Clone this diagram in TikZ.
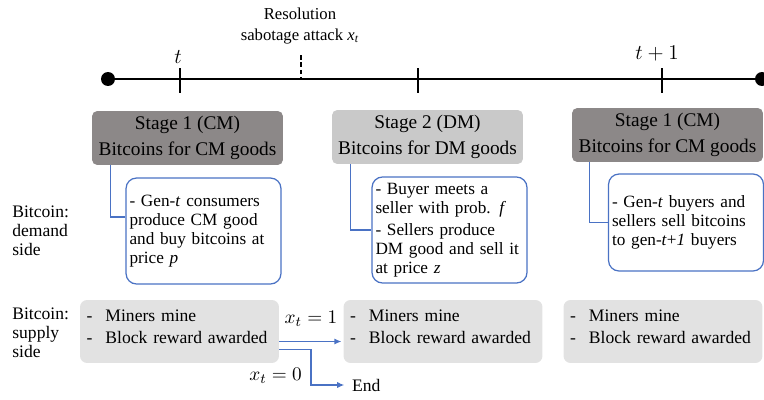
\documentclass[tikz,border=0pt]{standalone}
\usepackage{fontspec}
\setmainfont{Liberation Serif}
\usetikzlibrary{arrows.meta, positioning, calc}
\definecolor{stagedark}{RGB}{140,136,136}
\definecolor{stagelight}{RGB}{201,201,201}
\definecolor{minegray}{RGB}{226,226,226}
\definecolor{noteblue}{RGB}{74,114,196}
\tikzset{
  stagebox/.style={
    rounded corners=3pt,
    minimum width=3.82cm,
    minimum height=1.08cm,
    inner sep=1pt,
    align=center,
    font=\fontsize{11}{15}\selectfont
  },
  notebox/.style={
    draw=noteblue,
    line width=0.7pt,
    rounded corners=6pt,
    fill=white,
    minimum width=3.1cm,
    text width=2.96cm,
    inner xsep=0.07cm,
    align=left,
    font=\fontsize{9.8}{10.8}\selectfont
  },
  minebox/.style={
    fill=minegray,
    rounded corners=4pt,
    minimum width=3.98cm,
    minimum height=1.26cm,
    text width=3.72cm,
    inner xsep=0.13cm,
    align=left,
    font=\fontsize{10}{12}\selectfont
  },
  sidelabel/.style={
    anchor=north west,
    inner sep=0pt,
    align=left,
    font=\fontsize{10}{10.6}\selectfont
  },
  dot/.style={circle, fill, inner sep=0pt, minimum size=0.28cm},
  tickmark/.style={line width=0.8pt},
  attackmark/.style={line width=1.3pt, dash pattern=on 2.6pt off 1.6pt},
  link/.style={draw=noteblue, line width=0.7pt},
  flow/.style={link, -{Latex[length=4pt,width=3.5pt]}, shorten >=1pt}
}
% two bullet lines of a miners box, lifted a little above the middle
\newcommand{\mineitems}{\makebox[10.8pt][l]{-}Miners mine\\\makebox[10.8pt][l]{-}Block reward awarded\\[-6.5pt]\mbox{}}

\begin{document}
\begin{tikzpicture}[x=0.02cm, y=-0.02cm]
  \useasboundingbox (0,0) rectangle (764,399);

  % time line
  \node[dot] (tl) at (108,79) {};
  \node[dot] (tr) at (762,79) {};
  \draw[line width=1.5pt] (tl) -- (tr);
  \foreach \x in {180,418,662}
    \draw[tickmark] (\x,68) -- (\x,93);
  \draw[attackmark] (301,55) -- (301,79);
  \node[font=\fontsize{13}{15}\selectfont] (t0) at (178,57) {$t$};
  \node[font=\fontsize{13}{15}\selectfont] (t1) at (657,54) {$t+1$};
  \node[align=center, font=\fontsize{9.5}{12.5}\selectfont] (res) at (300,26)
    {Resolution\\sabotage attack \textit{x}\textsubscript{\textit{t}}};

  % stages
  \node[stagebox, fill=stagedark] (s1) at (187.5,138) {Stage 1 (CM)\\Bitcoins for CM goods};
  \node[stagebox, fill=stagelight] (s2) at (427.5,137) {Stage 2 (DM)\\Bitcoins for DM goods};
  \node[stagebox, fill=stagedark] (s3) at (667.5,135) {Stage 1 (CM)\\Bitcoins for CM goods};

  % demand side
  \node[sidelabel] (dem) at (12,206) {Bitcoin:\\demand\\side};
  \node[notebox, minimum height=2.12cm] (d1) at (203.5,231)
    {- Gen-\textit{t} consumers\\produce CM good\\and buy bitcoins at\\price \textit{p}};
  \node[notebox, minimum height=2.0cm] (d2) at (449.5,230)
    {- Buyer meets a\\seller with prob. \textit{f}\\[2pt]- Sellers produce\\DM good and sell it\\at price \textit{z}};
  \node[notebox, minimum height=1.94cm] (d3) at (686,222.5)
    {- Gen-\textit{t} buyers and\\sellers sell bitcoins\\to gen-\textit{t}+\textit{1} buyers};

  \draw[link] ([xshift=0.38cm]s1.south west) |- ([yshift=0.28cm]d1.west);
  \draw[link] ([xshift=0.38cm]s2.south west) |- (d2.west);
  \draw[link] ([xshift=0.36cm]s3.south west) |- (d3.west);

  % supply side
  \node[sidelabel] (sup) at (12,308) {Bitcoin:\\supply\\side};
  \node[minebox] (m1) at (179.5,331.5) {\mineitems};
  \node[minebox] (m2) at (443,331.5) {\mineitems};
  \node[minebox] (m3) at (663,331.5) {\mineitems};

  \draw[flow] ([yshift=-0.2cm]m1.east) -- ([yshift=-0.2cm]m2.west);
  \node[font=\fontsize{11}{13}\selectfont] (x1) at (311,319) {$x_t = 1$};
  \coordinate (split) at (311,385);
  \node[anchor=west, font=\fontsize{10}{12}\selectfont] (end) at (346,385) {End};
  \draw[flow] ([yshift=-0.36cm]m1.east) -| (split) -- (end.west);
  \node[anchor=east, font=\fontsize{11}{13}\selectfont] (x0) at (308,376) {$x_t = 0$};
\end{tikzpicture}
\end{document}
